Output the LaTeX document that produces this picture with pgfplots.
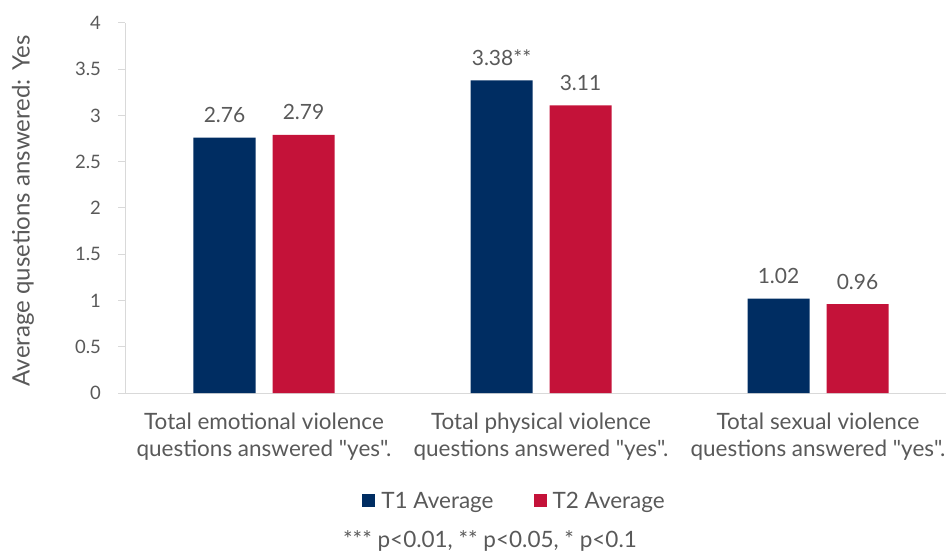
\documentclass[border=0pt]{standalone}
\usepackage{pgfplots}
\pgfplotsset{compat=1.18}
\usepackage{fontspec}
\setmainfont{Lato}[Ligatures=TeXOff]
\definecolor{tblue}{RGB}{0,45,98}
\definecolor{tred}{RGB}{196,18,57}
\definecolor{tgray}{RGB}{89,89,89}
\definecolor{agray}{RGB}{217,217,217}
\newcommand{\fcat}{\fontsize{22.5bp}{27bp}\selectfont}
\newcommand{\ftick}{\fontsize{18.5bp}{22bp}\selectfont}
\newcommand{\fval}{\fontsize{21bp}{24bp}\selectfont}
\newcommand{\fylab}{\fontsize{24bp}{28bp}\selectfont}
\begin{document}
\begin{tikzpicture}
\useasboundingbox (-125.5bp,-159bp) rectangle (820.5bp,393bp);
\begin{axis}[
  at={(0,0)}, anchor=south west,
  scale only axis, width=831bp, height=370bp,
  xmin=-0.5, xmax=2.5, ymin=0, ymax=4,
  ybar=17bp, bar width=62bp,
  axis x line*=bottom, axis y line*=left,
  axis line style={draw=agray, line width=1bp},
  ytick={0,0.5,...,4},
  xtick={0,1,2},
  xticklabels={{Total emotional violence\\questions answered "yes".},{Total physical violence\\questions answered "yes".},{Total sexual violence\\questions answered "yes".}},
  x tick label style={align=center, font=\fcat, text=tgray, yshift=-9bp},
  y tick label style={font=\ftick, text=tgray, xshift=-14bp},
  /pgf/number format/assume math mode=true,
  xtick style={draw=none},
  ytick style={draw=agray, line width=1bp},
  tick align=outside, major tick length=7bp,
  ylabel={Average qusetions answered: Yes},
  ylabel style={font=\fylab, text=tgray, at={(axis description cs:-0.1233,0.492)}, anchor=center},
  nodes near coords,
  point meta=explicit symbolic,
  every node near coord/.append style={font=\fval, text=tgray, inner sep=0pt, yshift=15bp, anchor=base},
  legend columns=2,
  legend style={at={(axis description cs:0.4682,-0.291)}, anchor=center, draw=none, fill=none, font=\fcat, text=tgray,
    /tikz/every odd column/.append style={column sep=4bp},
    /tikz/every even column/.append style={column sep=38bp}},
  legend image code/.code={\fill[#1,draw=none] (0bp,-6.5bp) rectangle (13bp,6.5bp);},
]
\addplot[fill=tblue, draw=none] coordinates {(0,2.76) [2.76] (1,3.38) [3.38**] (2,1.02) [1.02]};
\addplot[fill=tred, draw=none] coordinates {(0,2.79) [2.79] (1,3.11) [3.11] (2,0.96) [0.96]};
\legend{T1 Average, T2 Average}
\end{axis}
\node[font=\fcat, text=tgray] at (364.5bp,-148bp) {*** p<0.01, ** p<0.05, * p<0.1};
\end{tikzpicture}
\end{document}
